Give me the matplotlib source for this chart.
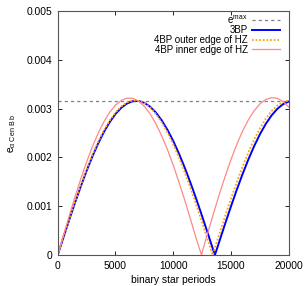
import numpy as np
import matplotlib
matplotlib.use('Agg')
import matplotlib.pyplot as plt

plt.rcParams['font.family'] = ['Liberation Sans', 'DejaVu Sans']
plt.rcParams['mathtext.fontset'] = 'custom'
plt.rcParams['mathtext.rm'] = 'Liberation Sans'
plt.rcParams['mathtext.it'] = 'Liberation Sans'

# values (binary star periods vs eccentricity)
t_3bp = [0, 500, 1000, 1500, 2000, 2500, 3000, 3500, 4000, 4500, 5000, 5500, 6000, 6500,
         7000, 7500, 8000, 8500, 9000, 9500, 10000, 10500, 11000, 11500, 12000, 12500,
         13000, 13500, 13600, 14000, 14500, 15000, 15500, 16000, 16500, 17000, 17500,
         18000, 18500, 19000, 19500, 20000]
e_3bp = [0, 0.000364, 0.000724, 0.001073, 0.001408, 0.001725, 0.002019, 0.002286,
         0.002522, 0.002724, 0.002891, 0.003018, 0.003106, 0.003152, 0.003157, 0.003119,
         0.003039, 0.002919, 0.002761, 0.002565, 0.002336, 0.002075, 0.001786, 0.001473,
         0.001142, 0.000794, 0.000436, 0.000073, 0, 0.000291, 0.000652, 0.001004,
         0.001343, 0.001663, 0.001962, 0.002234, 0.002477, 0.002687, 0.002860, 0.002996,
         0.003092, 0.003146]

t_outer = [0, 500, 1000, 1500, 2000, 2500, 3000, 3500, 4000, 4500, 5000, 5500, 6000, 6500,
           7000, 7500, 8000, 8500, 9000, 9500, 10000, 10500, 11000, 11500, 12000, 12500,
           13000, 13400, 13500, 14000, 14500, 15000, 15500, 16000, 16500, 17000, 17500,
           18000, 18500, 19000, 19500, 20000]
e_outer = [0, 0.000371, 0.000736, 0.001092, 0.001433, 0.001753, 0.002050, 0.002319,
           0.002556, 0.002758, 0.002921, 0.003045, 0.003127, 0.003167, 0.003162, 0.003114,
           0.003024, 0.002892, 0.002720, 0.002512, 0.002268, 0.001994, 0.001691, 0.001366,
           0.001022, 0.000664, 0.000297, 0, 0.000074, 0.000444, 0.000809, 0.001161,
           0.001498, 0.001815, 0.002107, 0.002370, 0.002599, 0.002793, 0.002950, 0.003065,
           0.003139, 0.003169]

t_inner = [0, 500, 1000, 1500, 2000, 2500, 3000, 3500, 4000, 4500, 5000, 5500, 6000, 6500,
           7000, 7500, 8000, 8500, 9000, 9500, 10000, 10500, 11000, 11500, 12000, 12450,
           12500, 13000, 13500, 14000, 14500, 15000, 15500, 16000, 16500, 17000, 17500,
           18000, 18500, 19000, 19500, 20000]
e_inner = [0, 0.000407, 0.000807, 0.001194, 0.001563, 0.001906, 0.002219, 0.002496,
           0.002732, 0.002926, 0.003072, 0.003169, 0.003216, 0.003211, 0.003154, 0.003047,
           0.002891, 0.002688, 0.002443, 0.002159, 0.001839, 0.001491, 0.001118, 0.000728,
           0.000326, 0, 0.000061, 0.000470, 0.000870, 0.001256, 0.001622, 0.001962,
           0.002271, 0.002543, 0.002774, 0.002960, 0.003099, 0.003188, 0.003225, 0.003211,
           0.003146, 0.003032]

e_max = 0.00315

fig = plt.figure(figsize=(3.06, 2.86), dpi=100)
ax = fig.add_axes([0.1885, 0.108, 0.7555, 0.8535])

ax.axhline(e_max, color='#808080', lw=0.9, ls=(0, (2.5, 2.5)), label=r'e$^{\rm max}$')
ax.plot(t_3bp, e_3bp, color='#0000ff', lw=1.4, label='3BP')
ax.plot(t_outer, e_outer, color='#ffa500', lw=1.3, ls=(0, (1, 1)), label='4BP outer edge of HZ')
ax.plot(t_inner, e_inner, color='#ff8888', lw=0.9, label='4BP inner edge of HZ')

ax.set_xlim(0, 20000)
ax.set_ylim(0, 0.005)
ax.set_xticks([0, 5000, 10000, 15000, 20000])
ax.set_yticks([0, 0.001, 0.002, 0.003, 0.004, 0.005])
ax.set_yticklabels(['0', '0.001', '0.002', '0.003', '0.004', '0.005'])
ax.tick_params(direction='in', top=True, right=True, length=3, width=0.6,
               labelsize=7.4, pad=4)
for s in ax.spines.values():
    s.set_linewidth(0.8)
    s.set_color('#555555')

ax.set_xlabel('binary star periods', fontsize=7.4, labelpad=3)
ax.set_ylabel(r'e$_{\alpha\ \rm Cen\ B\ b}$', fontsize=7.4, labelpad=6)

leg = ax.legend(loc='upper right', bbox_to_anchor=(0.975, 1.003), frameon=False,
                markerfirst=False, fontsize=7.0, handlelength=2.9, handletextpad=0.45,
                labelspacing=-0.03, borderaxespad=0.1, borderpad=0.2)

fig.savefig('out.png', dpi=100)
